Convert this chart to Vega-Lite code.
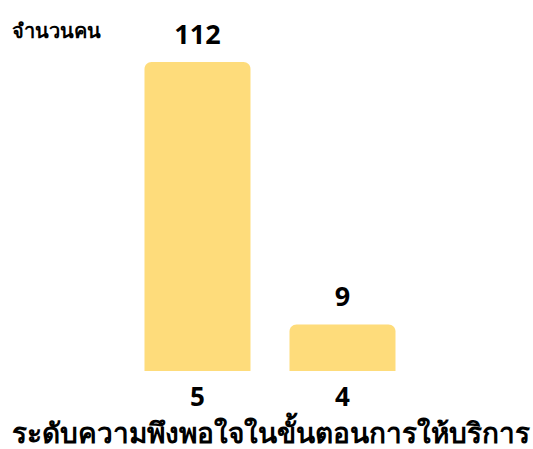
{
  "$schema": "https://vega.github.io/schema/vega-lite/v6.json",
  "width": 290,
  "height": 351,
  "autosize": {"type": "none"},
  "padding": {"left": 125, "top": 20, "right": 118, "bottom": 78},
  "background": "white",
  "config": {"view": {"stroke": null}, "font": "Noto Sans"},
  "data": {"values": [
    {"level": "5", "count": 112},
    {"level": "4", "count": 9}
  ]},
  "encoding": {
    "x": {
      "field": "level", "type": "nominal", "sort": ["5", "4"],
      "scale": {"paddingInner": 0.269, "paddingOuter": 0.1345},
      "axis": {
        "title": "ระดับความพึงพอใจในขั้นตอนการให้บริการ",
        "titleFontSize": 28, "titleFontWeight": "bold", "titleColor": "#000",
        "titlePadding": 10,
        "labelAngle": 0, "labelFontSize": 26, "labelFontWeight": "bold", "labelColor": "#000",
        "labelPadding": 13, "domain": false, "ticks": false, "grid": false
      }
    }
  },
  "layer": [
    {
      "mark": {"type": "bar", "color": "#FEDC7B", "cornerRadiusTopLeft": 7, "cornerRadiusTopRight": 7},
      "encoding": {
        "y": {
          "field": "count", "type": "quantitative",
          "scale": {"domain": [-9.3, 128.5], "nice": false, "zero": false},
          "axis": {
            "title": "จำนวนคน", "titleAngle": 0, "titleAlign": "left", "titleBaseline": "middle",
            "titleX": -114, "titleY": 11, "titleFontSize": 20, "titleFontWeight": "bold", "titleColor": "#000",
            "labels": false, "ticks": false, "domain": false, "grid": false
          }
        },
        "y2": {"datum": -9.3}
      }
    },
    {
      "mark": {"type": "text", "fontSize": 27, "fontWeight": "bold", "color": "#000", "baseline": "alphabetic", "dy": -18},
      "encoding": {
        "y": {"field": "count", "type": "quantitative"},
        "text": {"field": "count", "type": "quantitative"}
      }
    }
  ]
}
